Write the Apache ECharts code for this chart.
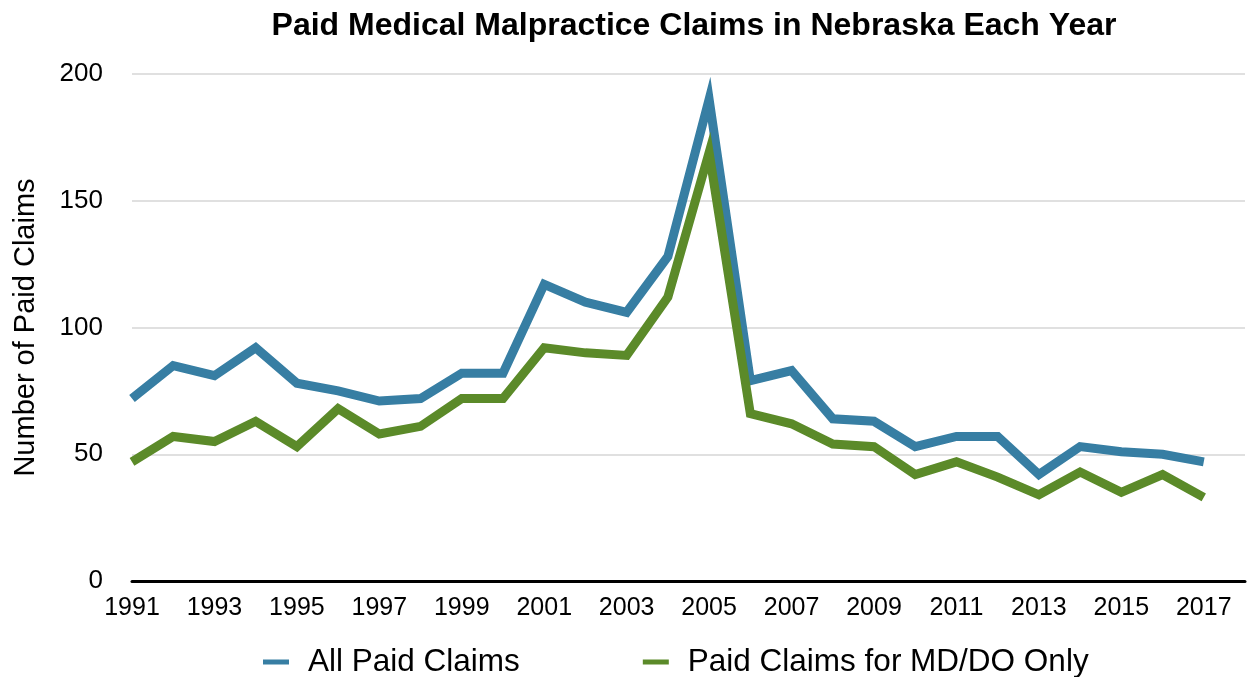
<!DOCTYPE html>
<html><head><meta charset="utf-8">
<script src="https://cdn.jsdelivr.net/npm/echarts@6/dist/echarts.min.js"></script>
<style>html,body{margin:0;padding:0;background:#fff}#c{width:1249px;height:677px}</style>
</head><body><div id="c"></div>
<script>
const years = ['1991','1992','1993','1994','1995','1996','1997','1998','1999','2000','2001','2002','2003','2004','2005','2006','2007','2008','2009','2010','2011','2012','2013','2014','2015','2016','2017','2018'];
const allPaid = [72,85,81,92,78,75,71,72,82,82,117,110,106,128,190,79,83,64,63,53,57,57,42,53,51,50,47];
const mdDoOnly = [47,57,55,63,53,68,58,61,72,72,92,90,89,112,169,66,62,54,53,42,47,41,34,43,35,42,33];
const yTicks = [0,50,100,150,200];

const font = 'Liberation Sans, Helvetica, Arial, sans-serif';
const chart = echarts.init(document.getElementById('c'));
chart.setOption({
  animation:false,
  title:{text:'Paid Medical Malpractice Claims in Nebraska Each Year',left:689,textAlign:'center',top:5,
    textStyle:{fontFamily:font,fontSize:32,fontWeight:'bold',color:'#000'}},
  legend:{top:641,left:258,itemWidth:26,itemHeight:5,itemGap:123,icon:'rect',
    textStyle:{fontFamily:font,fontSize:31.5,color:'#000',padding:[0,0,0,14]},
    data:['All Paid Claims','Paid Claims for MD/DO Only']},
  grid:{left:132,right:4,top:74,bottom:96,containLabel:false,outerBoundsMode:'none'},
  xAxis:{type:'category',data:years,boundaryGap:false,
    axisLine:{lineStyle:{color:'#000',width:3}},axisTick:{show:false},
    axisLabel:{interval:1,fontFamily:font,fontSize:25,color:'#000',margin:15}},
  yAxis:{type:'value',min:yTicks[0],max:yTicks[yTicks.length-1],interval:50,
    name:'Number of Paid Claims',nameLocation:'middle',nameGap:92,
    nameTextStyle:{fontFamily:font,fontSize:29,color:'#000'},
    axisLine:{show:false},axisTick:{show:false},
    axisLabel:{fontFamily:font,fontSize:26,color:'#000',margin:29},
    splitLine:{lineStyle:{color:'#d6d6d6',width:1.5}}},
  series:[
    {name:'All Paid Claims',type:'line',data:allPaid,symbol:'none',lineStyle:{width:9,color:'#377EA3',join:'miter'},itemStyle:{color:'#377EA3'}},
    {name:'Paid Claims for MD/DO Only',type:'line',data:mdDoOnly,symbol:'none',lineStyle:{width:9,color:'#5B8A29',join:'miter'},itemStyle:{color:'#5B8A29'}}
  ]
});
</script></body></html>
